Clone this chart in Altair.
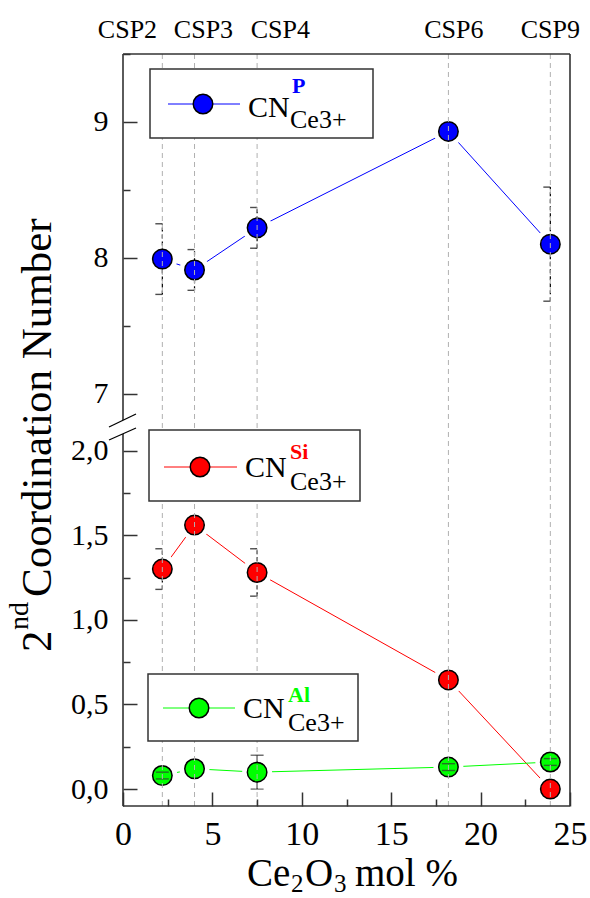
import altair as alt
import pandas as pd

FONT = "Liberation Serif, Times New Roman, DejaVu Serif, serif"

# ---------------- data ----------------
samples = ["CSP2", "CSP3", "CSP4", "CSP6", "CSP9"]
ce2o3_mol = [2.2, 4.0, 7.5, 18.2, 23.9]
sample_label_x = [0.25, 4.5, 8.8, 18.5, 23.9]

cn_p = [7.99, 7.91, 8.22, 8.93, 8.10]
cn_p_err = [0.26, 0.15, 0.15, 0.05, 0.42]
cn_si = [1.30, 1.56, 1.28, 0.645, 0.0]
cn_si_err = [0.12, 0.04, 0.14, 0.03, 0.0]
cn_al = [0.08, 0.12, 0.10, 0.13, 0.16]
cn_al_err = [0.02, 0.0, 0.10, 0.02, 0.02]

series_names = ["P", "Si", "Al"]
series_colors = ["#0000ff", "#ff0000", "#00ff00"]

x_ticks = [0, 5, 10, 15, 20, 25]
x_minor = [2.5, 7.5, 12.5, 17.5, 22.5]
y_ticks = [0, 0.5, 1, 1.5, 2, 7, 8, 9]
y_minor = [0.25, 0.75, 1.25, 1.75, 7.5, 8.5, 9.5]

rows = []
for name, vals, errs in [("P", cn_p, cn_p_err), ("Si", cn_si, cn_si_err), ("Al", cn_al, cn_al_err)]:
    for s, x, v, e in zip(samples, ce2o3_mol, vals, errs):
        rows.append(dict(series=name, sample=s, x=x, cn=v, err=e, lo=v - e, hi=v + e))
df = pd.DataFrame(rows)
df_ps = df[(df.series != "Al") & (df.err > 0)]
df_al = df[(df.series == "Al") & (df.err > 0)]
df_samples = pd.DataFrame({"sample": samples, "x": ce2o3_mol, "lx": sample_label_x})
one = pd.DataFrame({"k": [0]})

# ---------------- geometry ----------------
W, H = 447, 752
xs = alt.Scale(domain=[0, 25], nice=False, zero=False)
ys = alt.Scale(domain=[-0.1, 2.11, 6.82, 9.5], range=[H, 378, 364, 0], nice=False, zero=False)
cs = alt.Scale(domain=series_names, range=series_colors)

TICK = "#333333"
lab_expr = "datum.value > 5 ? format(datum.value, 'd') : replace(format(datum.value, '.1f'), '.', ',')"

x_major = alt.Axis(orient="bottom", values=x_ticks, tickSize=14, offset=-14, domain=False, grid=False,
                   labelFont=FONT, labelFontSize=34, labelPadding=11, labelColor="black",
                   labelFlush=False, labelOverlap=False, tickColor=TICK, tickWidth=1.5, title=None, zindex=1)
x_minor_ax = alt.Axis(orient="bottom", values=x_minor, tickSize=7, offset=-7, domain=False, grid=False,
                      labels=False, tickColor=TICK, tickWidth=1.5, title=None, zindex=1)
y_major = alt.Axis(orient="left", values=y_ticks, tickSize=14, offset=-14, domain=False, grid=False,
                   labelFont=FONT, labelFontSize=30, labelPadding=15, labelColor="black",
                   labelExpr=lab_expr, labelOverlap=False, labelBaseline="middle",
                   tickColor=TICK, tickWidth=1.5, title=None, zindex=1)
y_minor_ax = alt.Axis(orient="left", values=y_minor, tickSize=7, offset=-7, domain=False, grid=False,
                      labels=False, tickColor=TICK, tickWidth=1.5, title=None, zindex=1)


def X(field="x", axis=None):
    return alt.X(f"{field}:Q", scale=xs, axis=axis)


def Y(field="cn", axis=None):
    return alt.Y(f"{field}:Q", scale=ys, axis=axis)


def txt(s, x, y, size, color="black", bold=False, angle=0, align="left"):
    return alt.Chart(one).mark_text(
        text=s, font=FONT, fontSize=size, color=color,
        fontWeight="bold" if bold else "normal", angle=angle, align=align, baseline="alphabetic"
    ).encode(x=alt.value(x), y=alt.value(y))


def seg(x1, y1, x2, y2, color=TICK, width=1.6):
    return alt.Chart(one).mark_rule(color=color, strokeWidth=width).encode(
        x=alt.value(x1), y=alt.value(y1), x2=alt.value(x2), y2=alt.value(y2))


# ---------------- data layers ----------------
lines = alt.Chart(df).mark_line(strokeWidth=1).encode(
    x=X(), y=Y(), color=alt.Color("series:N", scale=cs, legend=None), detail="series:N")

halo = alt.Chart(df).mark_circle(size=900, color="white", opacity=1).encode(
    x=X(axis=x_minor_ax), y=Y(axis=y_minor_ax))

err_ps = alt.Chart(df_ps).mark_rule(color="black", strokeDash=[4, 3], strokeWidth=1.2).encode(
    x=X(), y=Y("lo"), y2="hi:Q")
cap_ps_lo = alt.Chart(df_ps).mark_tick(orient="horizontal", size=7, thickness=1.4, color="black",
                                       xOffset=-3.5).encode(x=X(), y=Y("lo"))
cap_ps_hi = alt.Chart(df_ps).mark_tick(orient="horizontal", size=7, thickness=1.4, color="black",
                                       xOffset=-3.5).encode(x=X(), y=Y("hi"))
err_al = alt.Chart(df_al).mark_rule(color="#333333", strokeWidth=1.3).encode(
    x=X(), y=Y("lo"), y2="hi:Q")

points = alt.Chart(df).mark_circle(size=380, opacity=1, stroke="black", strokeWidth=1.5).encode(
    x=X(axis=x_major), y=Y(axis=y_major), fill=alt.Fill("series:N", scale=cs, legend=None))

cap_al_lo = alt.Chart(df_al).mark_tick(orient="horizontal", size=13, thickness=1.4,
                                       color="#333333").encode(x=X(), y=Y("lo"))
cap_al_hi = alt.Chart(df_al).mark_tick(orient="horizontal", size=13, thickness=1.4,
                                       color="#333333").encode(x=X(), y=Y("hi"))

grid = alt.Chart(df_samples).mark_rule(color="#b0b0b0", strokeDash=[5, 4], strokeWidth=1).encode(
    x=X())

sample_labels = alt.Chart(df_samples).mark_text(
    font=FONT, fontSize=26, color="black", align="center", baseline="alphabetic"
).encode(x=X("lx"), y=alt.value(-16), text="sample:N")

# ---------------- legend boxes ----------------
legend_specs = [
    dict(box=(27, 250, 15, 84), line=(45, 117), cy=50, cx=80, cn=(125, 63), sup="P",
         supxy=(169, 39), subxy=(167, 74), color="#0000ff"),
    dict(box=(26, 237, 376, 447), line=(41, 114), cy=413, cx=77, cn=(122, 423), sup="Si",
         supxy=(167, 405), subxy=(167, 436), color="#ff0000"),
    dict(box=(25, 235, 620, 687), line=(40, 112), cy=654, cx=76, cn=(120, 664), sup="Al",
         supxy=(165, 648), subxy=(165, 677), color="#00ff00"),
]
legend_layers = []
for L in legend_specs:
    bx1, bx2, by1, by2 = L["box"]
    legend_layers.append(alt.Chart(one).mark_rect(fill="white", stroke="#333333", strokeWidth=1.5).encode(
        x=alt.value(bx1), x2=alt.value(bx2), y=alt.value(by1), y2=alt.value(by2)))
    legend_layers.append(seg(L["line"][0], L["cy"], L["line"][1], L["cy"], color=L["color"], width=1))
    legend_layers.append(alt.Chart(one).mark_circle(size=380, opacity=1, stroke="black", strokeWidth=1.5,
                                                    fill=L["color"]).encode(x=alt.value(L["cx"]), y=alt.value(L["cy"])))
    legend_layers.append(txt("CN", L["cn"][0], L["cn"][1], 30))
    legend_layers.append(txt(L["sup"], L["supxy"][0], L["supxy"][1], 22, color=L["color"], bold=True))
    legend_layers.append(txt("Ce3+", L["subxy"][0], L["subxy"][1], 26))

# ---------------- frame & break ----------------
frame = [
    seg(0, 0, W, 0), seg(W, 0, W, H), seg(0, H, W, H),
    seg(0, 0, 0, 366), seg(0, 380, 0, H),
    seg(-14, 373, 13, 360, color="black", width=1.3),
    seg(-14, 386, 13, 374, color="black", width=1.3),
]

# ---------------- axis titles (rich text) ----------------
titles = [
    txt("Ce", 124, 832, 39), txt("2", 168, 838, 25), txt("O", 182, 832, 39),
    txt("3", 211, 838, 25), txt("mol %", 232, 832, 39),
    txt("2", -72, 598, 43, angle=270), txt("nd", -95, 576, 28, angle=270),
    txt("Coordination Number", -72, 543, 43, angle=270),
]

chart = alt.layer(
    lines, halo, err_ps, cap_ps_lo, cap_ps_hi, err_al, points, cap_al_lo, cap_al_hi, grid,
    *legend_layers, sample_labels, *frame, *titles
).resolve_axis(x="independent", y="independent").properties(
    width=W, height=H,
    autosize=alt.AutoSizeParams(type="none"),
    padding={"left": 123, "top": 54, "right": 20, "bottom": 92},
    background="white",
).configure_view(stroke=None)

chart.save("out.html", embed_options={"renderer": "svg", "actions": False})
